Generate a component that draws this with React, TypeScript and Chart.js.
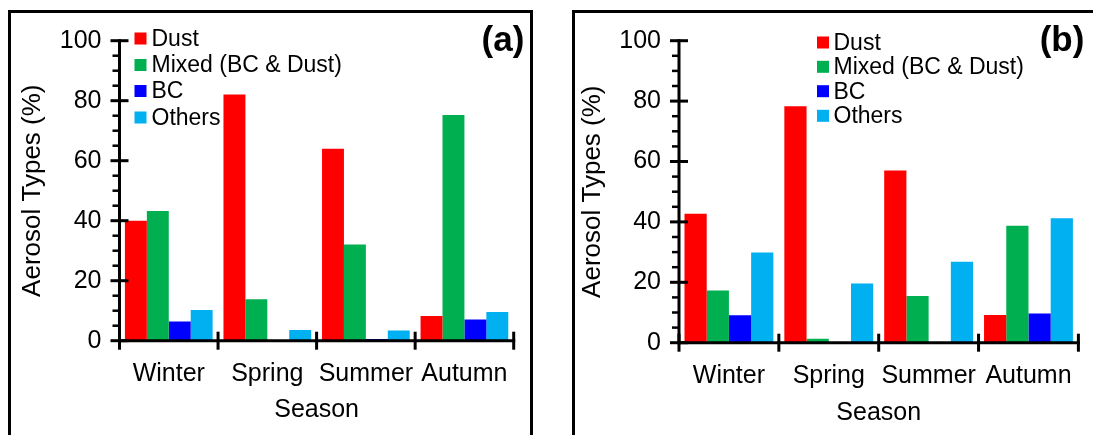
import React, { useEffect, useRef } from "react";
import { Chart, registerables } from "chart.js";

Chart.register(...registerables);

// ---- data ----
const seasons = ["Winter", "Spring", "Summer", "Autumn"];
const seriesNames = ["Dust", "Mixed (BC & Dust)", "BC", "Others"];
const seriesColors = ["#FF0000", "#00B050", "#0000FF", "#00B0F0"];

const dustA = [40.0, 82.1, 64.0, 8.2];
const mixedA = [43.2, 13.8, 32.1, 75.2];
const bcA = [6.4, 0, 0.6, 7.1];
const othersA = [10.2, 3.6, 3.4, 9.6];

const dustB = [42.7, 78.3, 57.0, 9.2];
const mixedB = [17.3, 1.3, 15.5, 38.7];
const bcB = [9.1, 0, 0, 9.7];
const othersB = [29.9, 19.6, 26.8, 41.2];

const yTicks = [0, 20, 40, 60, 80, 100];
const yMinorStep = 5;
const yAxisTitle = "Aerosol Types (%)";
const xAxisTitle = "Season";
const panelTags = ["(a)", "(b)"];

const FONT = "'Liberation Sans', Arial, Helvetica, sans-serif";

type PanelCfg = {
  tag: string;
  values: number[][];
  canvasLeft: number;
  canvasWidth: number;
  padTop: number;
  padRight: number;
  yWidth: number;
  xHeight: number;
  yTitlePad: number;
  yTickPad: number;
  xTickPad: number;
  xTitlePad: number;
  legendSqX: number;
  legendTextX: number;
  legendRows: number[];
  tagX: number;
  tagY: number;
};

const panels: PanelCfg[] = [
  {
    tag: panelTags[0],
    values: [dustA, mixedA, bcA, othersA],
    canvasLeft: 0,
    canvasWidth: 545,
    padTop: 40.7,
    padRight: 545 - 513.7,
    yWidth: 119.5,
    xHeight: 435 - 340.7,
    yTitlePad: 17,
    yTickPad: 18,
    xTickPad: 18,
    xTitlePad: 10,
    legendSqX: 134.5,
    legendTextX: 151.5,
    legendRows: [38.5, 65, 91, 117.5],
    tagX: 503,
    tagY: 41,
  },
  {
    tag: panelTags[1],
    values: [dustB, mixedB, bcB, othersB],
    canvasLeft: 545,
    canvasWidth: 548,
    padTop: 40.7,
    padRight: 548 - 533.4,
    yWidth: 134,
    xHeight: 435 - 342.7,
    yTitlePad: 32.5,
    yTickPad: 18,
    xTickPad: 18,
    xTitlePad: 6.5,
    legendSqX: 272,
    legendTextX: 288.5,
    legendRows: [42.5, 66.8, 91.2, 115.8],
    tagX: 517,
    tagY: 41.7,
  },
];

function makeDecor(cfg: PanelCfg) {
  return {
    id: "decor",
    afterDraw(chart: any) {
      const { ctx, chartArea, scales } = chart;
      const xs = scales.x;
      const ys = scales.y;
      const left = chartArea.left;
      const right = chartArea.right;
      const y0 = ys.getPixelForValue(0);
      const yTop = ys.getPixelForValue(100);
      const line = (x1: number, y1: number, x2: number, y2: number) => {
        ctx.beginPath();
        ctx.moveTo(x1, y1);
        ctx.lineTo(x2, y2);
        ctx.stroke();
      };
      ctx.save();
      ctx.strokeStyle = "#000";
      ctx.lineCap = "butt";
      // minor y ticks
      ctx.lineWidth = 2.5;
      for (let v = 0; v <= 100; v += yMinorStep) {
        if (yTicks.includes(v)) continue;
        const py = ys.getPixelForValue(v);
        line(left - 7, py, left, py);
      }
      // major y ticks
      ctx.lineWidth = 3;
      for (const v of yTicks) {
        const py = ys.getPixelForValue(v);
        line(left - 9, py, left + 9, py);
      }
      // axes
      line(left, yTop - 1.5, left, y0 + 1.5);
      line(left - 1.5, y0, right + 1.5, y0);
      // category dividers
      for (let i = 0; i <= seasons.length; i++) {
        const px = xs.getPixelForValue(i - 0.5);
        line(px, y0 - 9, px, y0 + 9);
      }
      // legend
      ctx.font = `23px ${FONT}`;
      ctx.textBaseline = "middle";
      ctx.textAlign = "left";
      chart.data.datasets.forEach((ds: any, i: number) => {
        const ry = cfg.legendRows[i];
        ctx.fillStyle = ds.backgroundColor;
        ctx.fillRect(cfg.legendSqX, ry - 6, 12, 12);
        ctx.fillStyle = "#000";
        ctx.fillText(ds.label, cfg.legendTextX, ry + 1);
      });
      // panel tag
      ctx.font = `bold 35px ${FONT}`;
      ctx.textAlign = "center";
      ctx.fillStyle = "#000";
      ctx.fillText(cfg.tag, cfg.tagX, cfg.tagY);
      ctx.restore();
    },
  };
}

function Panel({ cfg }: { cfg: PanelCfg }) {
  const ref = useRef<HTMLCanvasElement | null>(null);
  useEffect(() => {
    if (!ref.current) return;
    const chart = new Chart(ref.current, {
      type: "bar",
      data: {
        labels: seasons,
        datasets: seriesNames.map((name, i) => ({
          label: name,
          data: cfg.values[i],
          backgroundColor: seriesColors[i],
          borderWidth: 0,
          categoryPercentage: 0.89,
          barPercentage: 1,
        })),
      },
      options: {
        responsive: false,
        animation: false,
        layout: { padding: { top: cfg.padTop, right: cfg.padRight, bottom: 0, left: 0 } },
        plugins: {
          legend: { display: false },
          tooltip: { enabled: false },
        },
        scales: {
          x: {
            type: "category",
            offset: true,
            grid: { display: false, drawTicks: false, tickLength: 0 },
            border: { display: false },
            ticks: {
              padding: cfg.xTickPad,
              font: { size: 25, family: FONT },
              color: "#000",
              maxRotation: 0,
              autoSkip: false,
            },
            title: {
              display: true,
              text: xAxisTitle,
              font: { size: 25, family: FONT },
              color: "#000",
              padding: { top: 0, bottom: cfg.xTitlePad },
            },
            afterFit: (s: any) => {
              s.height = cfg.xHeight;
            },
          },
          y: {
            min: 0,
            max: 100,
            grid: { display: false, drawTicks: false, tickLength: 0 },
            border: { display: false },
            ticks: {
              stepSize: 20,
              padding: cfg.yTickPad,
              font: { size: 25, family: FONT },
              color: "#000",
            },
            afterBuildTicks: (s: any) => {
              s.ticks = yTicks.map((v) => ({ value: v }));
            },
            title: {
              display: true,
              text: yAxisTitle,
              font: { size: 26, family: FONT },
              color: "#000",
              padding: { top: cfg.yTitlePad, bottom: 0 },
            },
            afterFit: (s: any) => {
              s.width = cfg.yWidth;
            },
          },
        },
      },
      plugins: [makeDecor(cfg)],
    } as any);
    return () => chart.destroy();
  }, [cfg]);
  return (
    <canvas
      ref={ref}
      width={cfg.canvasWidth}
      height={435}
      style={{
        position: "absolute",
        left: cfg.canvasLeft,
        top: 0,
        width: cfg.canvasWidth,
        height: 435,
      }}
    />
  );
}

export default function App() {
  return (
    <div
      style={{
        position: "absolute",
        left: 0,
        top: 0,
        width: 1093,
        height: 435,
        overflow: "hidden",
        background: "#fff",
      }}
    >
      <div
        style={{
          position: "absolute",
          left: 8,
          top: 10,
          width: 525,
          height: 460,
          border: "3px solid #000",
          boxSizing: "border-box",
        }}
      />
      <div
        style={{
          position: "absolute",
          left: 572,
          top: 10,
          width: 560,
          height: 460,
          border: "3px solid #000",
          boxSizing: "border-box",
        }}
      />
      {panels.map((p) => (
        <Panel key={p.tag} cfg={p} />
      ))}
    </div>
  );
}
